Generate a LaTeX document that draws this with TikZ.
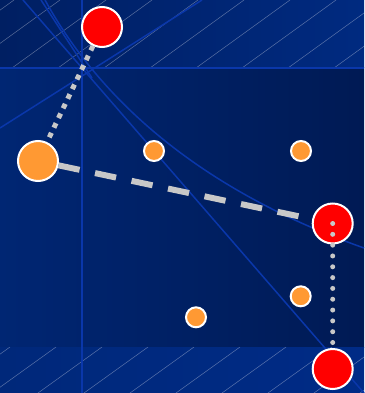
\documentclass[tikz,border=0pt]{standalone}
\definecolor{topL}{RGB}{0,31,98}
\definecolor{topR}{RGB}{0,42,128}
\definecolor{midL}{RGB}{0,38,115}
\definecolor{midR}{RGB}{0,26,84}
\definecolor{botL}{RGB}{0,40,122}
\definecolor{botR}{RGB}{0,43,134}
\definecolor{bline}{RGB}{10,55,170}
\definecolor{orng}{RGB}{255,153,51}
\definecolor{conn}{RGB}{200,200,200}
\pgfdeclarelayer{back}
\pgfdeclarelayer{mid}
\pgfdeclarelayer{front}
\pgfsetlayers{back,mid,main,front}
\tikzset{
  hatch/.style={white, opacity=0.35, line width=0.5pt},
  bluestroke/.style={bline, line width=1.5pt},
  rednode/.style={circle, fill=red, draw=white, line width=2pt, minimum size=40pt, inner sep=0pt},
  bigorange/.style={circle, fill=orng, draw=white, line width=2pt, minimum size=40pt, inner sep=0pt},
  smallorange/.style={circle, fill=orng, draw=white, line width=2pt, minimum size=20pt, inner sep=0pt},
  sqdots/.style={conn, line width=5pt, dash pattern=on 5pt off 5.7pt},
  longdash/.style={conn, line width=6pt, dash pattern=on 21.5pt off 15.8pt},
  rounddots/.style={conn, line width=5pt, line cap=round, dash pattern=on 0pt off 10.82pt}
}
\begin{document}
\begin{tikzpicture}[x=1pt,y=-1pt]
\useasboundingbox (0,0) rectangle (364,393);
% nodes
\node[rednode] (r1) at (102,27) {};
\node[bigorange] (o1) at (38,161) {};
\node[smallorange] (s1) at (154,151) {};
\node[smallorange] (s2) at (301,151) {};
\node[rednode] (r2) at (332.7,223.5) {};
\node[smallorange] (s3) at (300.7,296.3) {};
\node[smallorange] (s4) at (196,317.3) {};
\node[rednode] (r3) at (332.7,369) {};
\begin{pgfonlayer}{back}
% background bands
\shade[left color=topL, right color=topR] (0,0) rectangle (364,68);
\shade[left color=midL, right color=midR] (0,68) rectangle (364,347);
\shade[left color=botL, right color=botR] (0,347) rectangle (364,393);
% hatching
\begin{scope}
  \clip (0,0) rectangle (364,68);
  \foreach \x in {-80,-34,...,400} \draw[hatch] (\x,68) -- ++(94,-68);
\end{scope}
\begin{scope}
  \clip (0,347) rectangle (364,393);
  \foreach \x in {10,56,...,460} \draw[hatch] (\x,347) -- ++(-64,46);
\end{scope}
% blue guide lines
\draw[bline, line width=2pt] (0,68) -- (364,68);
\draw[bluestroke] (82,0) -- (82,393);
\draw[bluestroke] (0,128) -- (202,0);
\draw[bluestroke] (23,0) -- (364,393);
\draw[bluestroke] (41,0) -- (92,78);
\draw[bluestroke] (45,0) .. controls (100,100) and (200,190) .. (364,248);
\end{pgfonlayer}
% connectors
\begin{pgfonlayer}{mid}
\draw[sqdots] (r1) -- (o1);
\draw[longdash] (o1) -- (r2);
\end{pgfonlayer}
\begin{pgfonlayer}{front}
\draw[rounddots] (r2.center) -- (r3.north);
\end{pgfonlayer}
\end{tikzpicture}
\end{document}
